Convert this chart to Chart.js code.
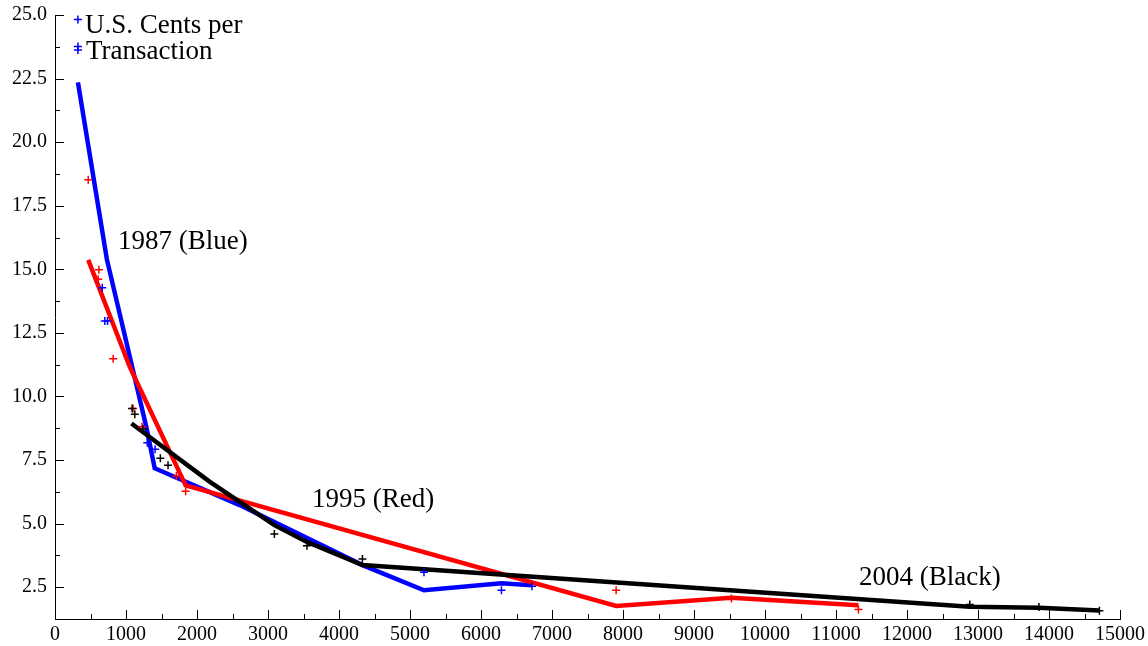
<!DOCTYPE html>
<html>
<head>
<meta charset="utf-8">
<script src="https://cdn.jsdelivr.net/npm/chart.js@4.4.0/dist/chart.umd.min.js"></script>
<style>
  body { margin: 0; background: #fff; }
  #wrap { position: relative; width: 1148px; height: 646px; }
  .note { position: absolute; font-family: "Liberation Serif", serif; font-size: 27px; line-height: 27px; color: #000; white-space: nowrap; }
</style>
</head>
<body>
<div id="wrap">
  <canvas id="chart" width="1148" height="646"></canvas>
  <div class="note" style="left:85px; top:11px;">U.S. Cents per</div>
  <div class="note" style="left:86px; top:37px;">Transaction</div>
  <div class="note" style="left:118px; top:227px;">1987 (Blue)</div>
  <div class="note" style="left:312px; top:485px;">1995 (Red)</div>
  <div class="note" style="left:859px; top:563px;">2004 (Black)</div>
</div>
<script>
// observed points (+ markers)
const blueX = [323, 323, 323, 665, 702, 740, 1300, 1410, 5197, 6288, 6718];
const blueY = [24.82, 23.76, 23.62, 14.28, 12.97, 12.97, 8.18, 7.92, 3.09, 2.38, 2.54];
const redX = [468, 608, 618, 819, 1099, 1226, 1709, 1840, 7903, 9527, 11316];
const redY = [18.52, 14.61, 14.98, 11.48, 9.53, 8.81, 6.87, 6.27, 2.38, 2.06, 1.62];
const blackX = [1086, 1124, 1240, 1484, 1592, 3090, 3549, 4330, 12884, 13858, 14710];
const blackY = [9.53, 9.30, 8.72, 7.57, 7.30, 4.59, 4.13, 3.61, 1.82, 1.72, 1.57];

// fitted curves
const blueFitX = [323, 730, 1288, 1404, 2600, 4330, 5197, 6288, 6718];
const blueFitY = [22.35, 15.4, 8.78, 7.18, 5.73, 3.37, 2.38, 2.66, 2.58];
const redFitX = [468, 1053, 1840, 7903, 9527, 11316];
const redFitY = [15.37, 11.16, 6.50, 1.76, 2.09, 1.79];
const blackFitX = [1077, 2177, 3090, 3549, 4330, 12884, 13858, 14710];
const blackFitY = [8.94, 6.65, 4.94, 4.28, 3.37, 1.73, 1.69, 1.58];

const xMin = 0, xMax = 15000, xStep = 500, xLabelStep = 1000;
const yMin = 1.25, yMax = 25, yStep = 1.25, yLabelStep = 2.5;

const pts = (xs, ys) => xs.map((x, i) => ({ x: x, y: ys[i] }));
const isMajor = (v, step) => Math.abs(v / step - Math.round(v / step)) < 1e-6;

function lineSet(xs, ys, color) {
  return { data: pts(xs, ys), showLine: true, borderColor: color, borderWidth: 4.5,
    pointRadius: 0, fill: false, tension: 0 };
}
function pointSet(xs, ys, color) {
  return { data: pts(xs, ys), showLine: false, pointStyle: 'cross', pointRadius: 4,
    borderColor: color, pointBorderWidth: 1.5, pointBackgroundColor: color };
}

// ticks drawn inward like the original
const inwardTicks = {
  id: 'inwardTicks',
  afterDraw(chart) {
    const ctx = chart.ctx;
    const xs = chart.scales.x, ys = chart.scales.y;
    const x0 = xs.left, y0 = ys.bottom;
    ctx.save();
    ctx.strokeStyle = '#000';
    ctx.lineWidth = 1;
    ctx.beginPath();
    xs.ticks.forEach(t => {
      const px = Math.round(xs.getPixelForValue(t.value)) + 0.5;
      const len = isMajor(t.value, xLabelStep) ? 9 : 5;
      ctx.moveTo(px, y0);
      ctx.lineTo(px, y0 - len);
    });
    ys.ticks.forEach(t => {
      const py = Math.round(ys.getPixelForValue(t.value)) + 0.5;
      const len = isMajor(t.value, yLabelStep) ? 9 : 5;
      ctx.moveTo(x0, py);
      ctx.lineTo(x0 + len, py);
    });
    ctx.stroke();
    ctx.restore();
  }
};

const font = { family: '"Liberation Serif", serif', size: 20 };

new Chart(document.getElementById('chart'), {
  type: 'scatter',
  data: {
    datasets: [
      pointSet(blackX, blackY, '#000000'),
      pointSet(redX, redY, '#ff0000'),
      pointSet(blueX, blueY, '#0000ff'),
      lineSet(blackFitX, blackFitY, '#000000'),
      lineSet(redFitX, redFitY, '#ff0000'),
      lineSet(blueFitX, blueFitY, '#0000ff')
    ]
  },
  options: {
    responsive: false,
    animation: false,
    layout: { padding: { top: 15, right: 28, left: 0, bottom: 0 } },
    plugins: { legend: { display: false }, tooltip: { enabled: false } },
    scales: {
      x: {
        type: 'linear', min: xMin, max: xMax,
        grid: { display: true, drawOnChartArea: false, drawTicks: false },
        border: { display: true, color: '#000', width: 1 },
        ticks: {
          stepSize: xStep, autoSkip: false, maxRotation: 0, padding: 4,
          color: '#000', font: font,
          callback: v => isMajor(v, xLabelStep) ? String(v) : ''
        },
        afterFit: s => { s.height = 27; s.paddingLeft = 0; s.paddingRight = 0; }
      },
      y: {
        type: 'linear', min: yMin, max: yMax,
        grid: { display: true, drawOnChartArea: false, drawTicks: false },
        border: { display: true, color: '#000', width: 1 },
        ticks: {
          stepSize: yStep, autoSkip: false, padding: 8,
          color: '#000', font: font,
          callback: v => isMajor(v, yLabelStep) ? v.toFixed(1) : ''
        },
        afterFit: s => { s.width = 55; s.paddingTop = 0; s.paddingBottom = 0; }
      }
    }
  },
  plugins: [inwardTicks]
});
</script>
</body>
</html>
